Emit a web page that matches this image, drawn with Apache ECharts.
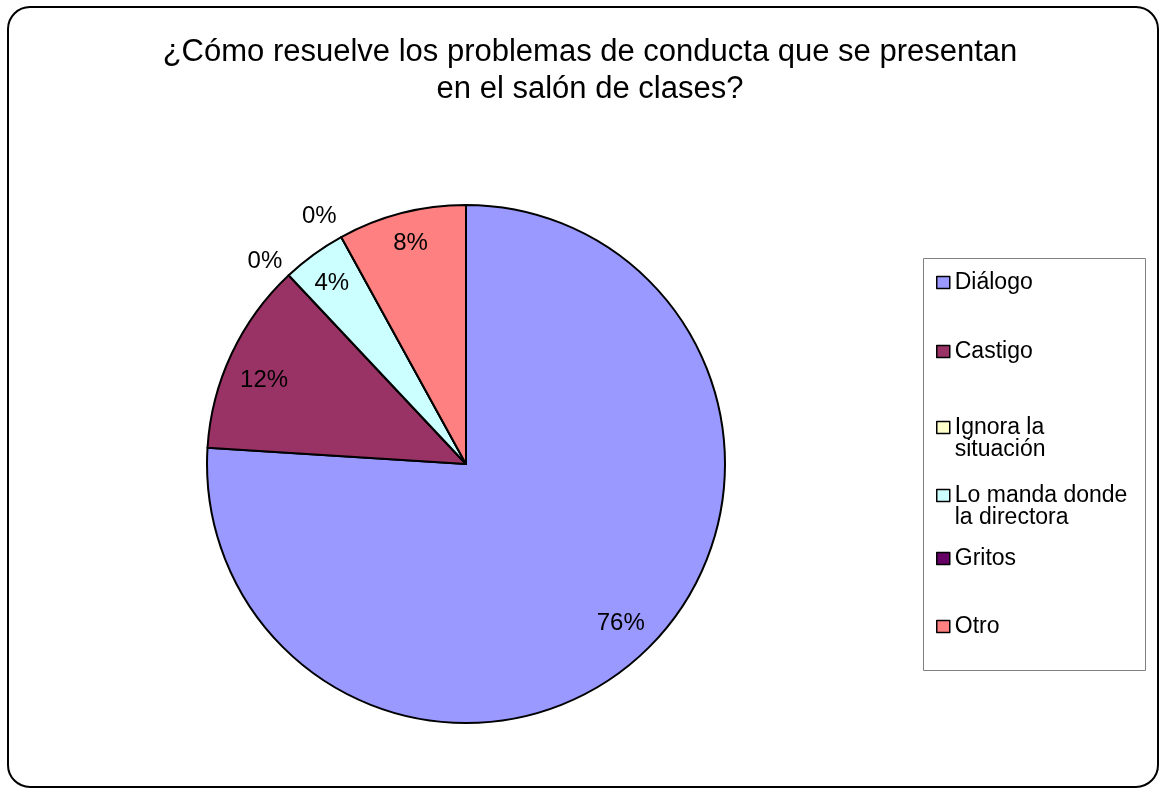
<!DOCTYPE html>
<html>
<head>
<meta charset="utf-8">
<script src="https://cdn.jsdelivr.net/npm/echarts@6/dist/echarts.min.js"></script>
<style>
html,body{margin:0;padding:0;background:#fff;}
#c{width:1163px;height:792px;}
</style>
</head>
<body>
<div id="c"></div>
<script>
const titleText = "¿Cómo resuelve los problemas de conducta que se presentan\nen el salón de clases?";
const categories = ["Diálogo", "Castigo", "Ignora la situación", "Lo manda donde la directora", "Gritos", "Otro"];
const legendLabels = ["Diálogo", "Castigo", "Ignora la\nsituación", "Lo manda donde\nla directora", "Gritos", "Otro"];
const values = [76, 12, 0, 4, 0, 8];
const colors = ["#9999FF", "#993366", "#FFFFCC", "#CCFFFF", "#660066", "#FF8080"];

const FONT = "Arial, 'Liberation Sans', sans-serif";
const chart = echarts.init(document.getElementById('c'), null, {renderer: 'canvas'});

const center = [466, 464];
const R = 259;
// small nudges to mimic the original label placement
const labelOffsets = [[2, -3], [0, 11], [-4, 7], [-3, 0], [-8, 5], [0, -4]];

const mainData = categories.map((n, i) => ({name: n, value: values[i], itemStyle: {color: colors[i]}}));
const innerLabelData = categories.map((n, i) => ({
  name: n, value: values[i],
  label: {show: values[i] > 0, offset: labelOffsets[i]}
}));
const outerLabelData = categories.map((n, i) => ({
  name: n, value: values[i],
  label: {show: values[i] === 0, offset: labelOffsets[i]}
}));

// y of the first text line centre for each legend entry
const legendLineY = [281, 350, 426, 494, 557, 625];
const legends = categories.map((n, i) => {
  const multi = legendLabels[i].indexOf('\n') >= 0;
  return {
    data: [n],
    left: 931,
    top: legendLineY[i] - 15 - (multi ? 22 : 0),
    orient: 'vertical',
    padding: 5,
    itemWidth: 13,
    itemHeight: 12,
    itemGap: 0,
    selectedMode: false,
    icon: 'rect',
    itemStyle: {borderColor: '#000', borderWidth: 1.5},
    // leading blank line keeps the marker beside the first text line
    formatter: () => (multi ? '\n' : '') + legendLabels[i],
    textStyle: {fontFamily: FONT, fontSize: 23, color: '#000', lineHeight: 22}
  };
});

chart.setOption({
  animation: false,
  backgroundColor: '#fff',
  color: colors,
  title: {
    text: titleText,
    left: 585,
    textAlign: 'center',
    top: 29,
    textStyle: {fontFamily: FONT, fontSize: 31, fontWeight: 'normal', color: '#000', lineHeight: 37}
  },
  legend: legends,
  graphic: [
    {type: 'rect', shape: {x: 8, y: 7, width: 1150, height: 780, r: 22}, style: {fill: 'none', stroke: '#000', lineWidth: 2}, silent: true, z: 100},
    {type: 'rect', shape: {x: 923.5, y: 258.5, width: 222, height: 412}, style: {fill: 'none', stroke: '#808080', lineWidth: 1}, silent: true, z: 100}
  ],
  series: [
    {
      type: 'pie',
      center: center,
      radius: [0, R],
      startAngle: 90,
      clockwise: true,
      minAngle: 0,
      avoidLabelOverlap: false,
      label: {show: false},
      labelLine: {show: false},
      itemStyle: {borderColor: '#000', borderWidth: 2},
      emphasis: {disabled: true},
      data: mainData
    },
    {
      type: 'pie',
      center: center,
      radius: [R * 0.7, R],
      startAngle: 90,
      clockwise: true,
      avoidLabelOverlap: false,
      silent: true,
      itemStyle: {color: 'rgba(0,0,0,0)', borderWidth: 0},
      label: {position: 'inside', formatter: '{c}%', fontFamily: FONT, fontSize: 24, color: '#000'},
      labelLine: {show: false},
      emphasis: {disabled: true},
      data: innerLabelData
    },
    {
      type: 'pie',
      center: center,
      radius: [R, R * 1.2],
      startAngle: 90,
      clockwise: true,
      avoidLabelOverlap: false,
      stillShowZeroSum: true,
      silent: true,
      itemStyle: {color: 'rgba(0,0,0,0)', borderWidth: 0},
      label: {position: 'inside', formatter: '{c}%', fontFamily: FONT, fontSize: 24, color: '#000'},
      labelLine: {show: false},
      emphasis: {disabled: true},
      data: outerLabelData
    }
  ]
});
</script>
</body>
</html>
